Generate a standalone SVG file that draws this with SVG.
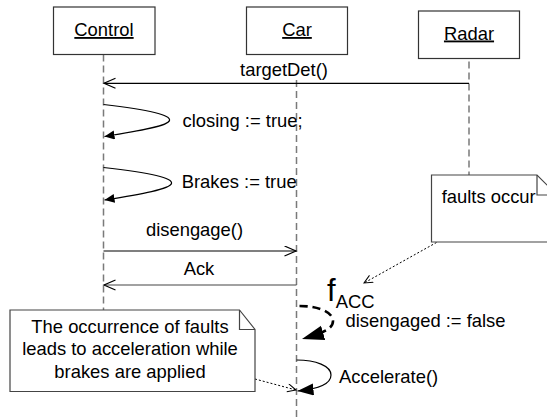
<svg xmlns="http://www.w3.org/2000/svg" width="547" height="417" viewBox="0 0 547 417">
  <defs>
    <style>
      text { font-family: "Liberation Sans", Arial, sans-serif; font-size: 18.4px; fill: #000; }
      .obj rect { fill: #fff; stroke: #333; stroke-width: 1.2; }
      .obj text { text-anchor: middle; text-decoration: underline; }
      .life { stroke: #7a7a7a; stroke-width: 1.5; stroke-dasharray: 7 4; fill: none; }
      .msg { stroke: #000; stroke-width: 1.2; fill: none; }
      .reply { stroke: #444; stroke-width: 1.2; fill: none; }
      .self { stroke: #000; stroke-width: 1.2; fill: none; }
      .fault { stroke: #000; stroke-width: 2.6; stroke-dasharray: 8 5; fill: none; }
      .dot { stroke: #000; stroke-width: 1; stroke-dasharray: 2 2; fill: none; }
      .note path { fill: #fff; stroke: #444; stroke-width: 1.2; }
      .note .fold { fill: none; }
      .note text { text-anchor: middle; }
    </style>
    <!-- open V head for calls and replies -->
    <marker id="open" markerUnits="userSpaceOnUse" markerWidth="14" markerHeight="12" refX="12" refY="5.5" orient="auto">
      <path d="M0.5,0.5 L12,5.5 L0.5,10.5" fill="none" stroke="#000" stroke-width="1.2"/>
    </marker>
    <!-- small open head for note anchors -->
    <marker id="openSmall" markerUnits="userSpaceOnUse" markerWidth="10" markerHeight="10" refX="9" refY="4.5" orient="auto">
      <path d="M0.5,0.5 L9,4.5 L0.5,8.5" fill="none" stroke="#000" stroke-width="1"/>
    </marker>
    <!-- filled head for self messages -->
    <marker id="filled" markerUnits="userSpaceOnUse" markerWidth="12" markerHeight="10" refX="10" refY="4.5" orient="auto">
      <path d="M0,0 L10,4.5 L0,9 Z" fill="#000" stroke="none"/>
    </marker>
    <marker id="filledMid" markerUnits="userSpaceOnUse" markerWidth="18" markerHeight="13" refX="16" refY="6" orient="auto">
      <path d="M0,0 L16,6 L0,12 Z" fill="#000" stroke="none"/>
    </marker>
    <marker id="filledBig" markerUnits="userSpaceOnUse" markerWidth="24" markerHeight="16" refX="22" refY="7.5" orient="auto">
      <path d="M0,0 L22,7.5 L0,15 Z" fill="#000" stroke="none"/>
    </marker>
  </defs>

  <rect width="547" height="417" fill="#fff"/>

  <!-- lifelines -->
  <g id="lifelines">
    <line class="life" x1="103.5" y1="54.5" x2="103.5" y2="394"/>
    <line class="life" x1="296.5" y1="80" x2="296.5" y2="417"/>
    <line class="life" x1="469" y1="61.5" x2="469" y2="175"/>
  </g>

  <!-- objects -->
  <g id="control" class="obj">
    <rect x="53.5" y="7" width="101.5" height="47.5"/>
    <text x="104" y="36">Control</text>
  </g>
  <g id="car" class="obj">
    <rect x="246.5" y="7" width="101" height="47.5"/>
    <text x="297" y="36">Car</text>
  </g>
  <g id="radar" class="obj">
    <rect x="418.5" y="11" width="101" height="47.5"/>
    <text x="469" y="39.5">Radar</text>
  </g>

  <!-- messages -->
  <g id="connectors">
    <line class="msg" x1="469" y1="83.3" x2="104" y2="83.3" marker-end="url(#open)"/>
    <path class="self" d="M103.5,104.5 C150,110 171,115 169.5,120.5 C168,126 140,131 104.5,136.5" marker-end="url(#filled)"/>
    <path class="self" d="M103.5,167.5 C152,173 173,178 171.5,183.5 C170,189 142,194 104.5,200" marker-end="url(#filled)"/>
    <line class="msg" x1="103.5" y1="251" x2="296" y2="251" marker-end="url(#open)"/>
    <line class="reply" x1="296.5" y1="285" x2="104" y2="285" marker-end="url(#open)"/>
    <path class="fault" d="M299.5,306 C318,306 333,312 333,321 C333,328 326,332 302,339" marker-end="url(#filledBig)"/>
    <path class="self" d="M296.5,360 C316,360 331,366 331,375 C331,384 318,389 297.5,391" marker-end="url(#filledMid)"/>
    <line class="dot" x1="436.5" y1="242.5" x2="364" y2="283" marker-end="url(#openSmall)"/>
    <line class="dot" x1="255" y1="379" x2="296" y2="390" marker-end="url(#openSmall)"/>
  </g>

  <!-- message labels -->
  <g id="labels">
    <text x="284" y="76" text-anchor="middle">targetDet()</text>
    <text x="182.5" y="127">closing := true;</text>
    <text x="181.7" y="188">Brakes := true</text>
    <text x="194.5" y="236" text-anchor="middle">disengage()</text>
    <text x="199" y="275" text-anchor="middle">Ack</text>
    <text x="327" y="300.7" style="font-size:31px">f</text>
    <text x="335.7" y="308">ACC</text>
    <text x="345.5" y="327">disengaged := false</text>
    <text x="339" y="382.7">Accelerate()</text>
  </g>

  <!-- notes -->
  <g id="note-faults" class="note">
    <path d="M431.5,175 H537 L557,195 V242 H431.5 Z"/>
    <path class="fold" d="M537,175 V195 H557"/>
    <text x="441.7" y="203.3" style="text-anchor:start">faults occur</text>
  </g>
  <g id="note-effect" class="note">
    <path d="M10,310 H239.5 L255,329.5 V391.5 H10 Z"/>
    <path class="fold" d="M239.5,310 V329.5 H255"/>
    <text x="130" y="333.3">The occurrence of faults</text>
    <text x="130" y="355">leads to acceleration while</text>
    <text x="130" y="377.7">brakes are applied</text>
  </g>
</svg>
